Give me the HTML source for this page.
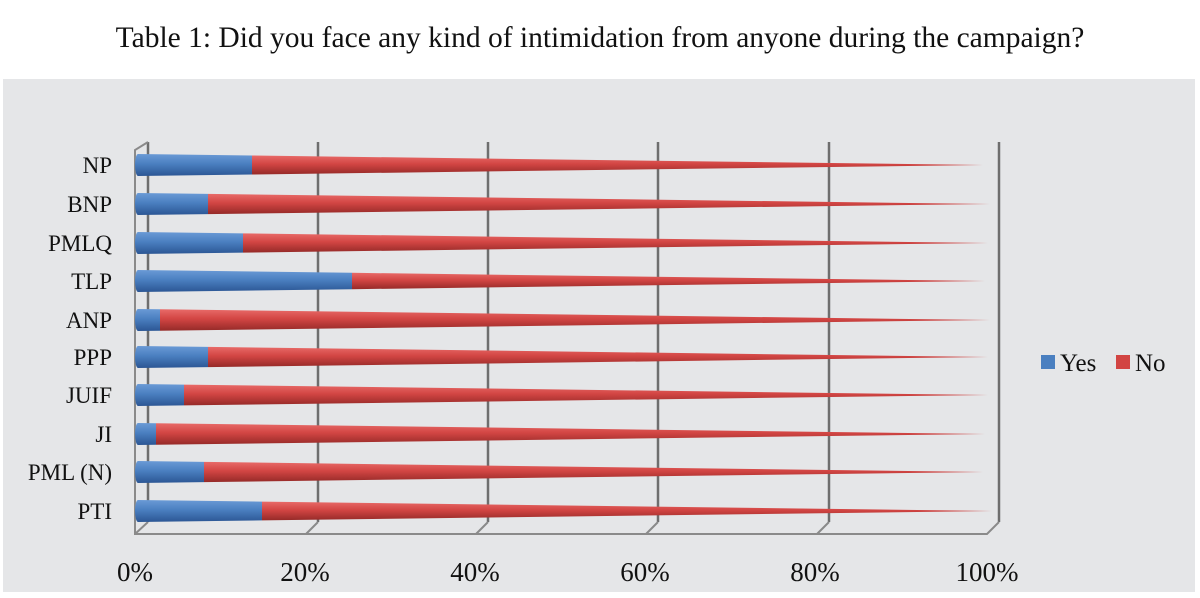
<!DOCTYPE html>
<html><head><style>
body{margin:0;background:#fff;}
svg{display:block;}
text{font-family:"Liberation Serif",serif;fill:#111;}
</style></head><body>
<svg width="1200" height="598" viewBox="0 0 1200 598">
<defs>
<linearGradient id="b" x1="0" y1="0" x2="0" y2="1">
<stop offset="0" stop-color="#6a9ad6"/><stop offset="0.45" stop-color="#4a7fc0"/><stop offset="1" stop-color="#2b5694"/>
</linearGradient>
<linearGradient id="r" x1="0" y1="0" x2="0" y2="1">
<stop offset="0" stop-color="#e86a68"/><stop offset="0.45" stop-color="#d24543"/><stop offset="1" stop-color="#952a28"/>
</linearGradient>
</defs>
<text x="600" y="47" font-size="29.5" text-anchor="middle">Table 1: Did you face any kind of intimidation from anyone during the campaign?</text>
<rect x="3" y="79" width="1192" height="513" fill="#e5e6e8"/>
<g stroke="#6e6e6e" stroke-width="2.5">
<line x1="148" y1="142" x2="148" y2="522"/>
<line x1="318" y1="142" x2="318" y2="522"/>
<line x1="488" y1="142" x2="488" y2="522"/>
<line x1="658" y1="142" x2="658" y2="522"/>
<line x1="829" y1="142" x2="829" y2="522"/>
<line x1="999" y1="142" x2="999" y2="522"/>
</g>
<g stroke="#8a8a8a" stroke-width="2" fill="none">
<polyline points="148,142 135,150 135,534 987,534 999,522"/>
<line x1="148" y1="522" x2="135" y2="534"/>
<line x1="318" y1="522" x2="306" y2="534"/>
<line x1="488" y1="522" x2="476" y2="534"/>
<line x1="658" y1="522" x2="646" y2="534"/>
<line x1="829" y1="522" x2="817" y2="534"/>
</g>
<g>
<polygon points="252,155.5 983,165 252,174.5" fill="url(#r)"/><polygon points="138,154 252,155.5 252,174.5 138,176" fill="url(#b)"/><ellipse cx="138" cy="165" rx="3" ry="11" fill="url(#b)"/>
<polygon points="208,193.9 990,204 208,214.1" fill="url(#r)"/><polygon points="138,193 208,193.9 208,214.1 138,215" fill="url(#b)"/><ellipse cx="138" cy="204" rx="3" ry="11" fill="url(#b)"/>
<polygon points="243,233.4 988,243 243,252.6" fill="url(#r)"/><polygon points="138,232 243,233.4 243,252.6 138,254" fill="url(#b)"/><ellipse cx="138" cy="243" rx="3" ry="11" fill="url(#b)"/>
<polygon points="352,272.8 985,281 352,289.2" fill="url(#r)"/><polygon points="138,270 352,272.8 352,289.2 138,292" fill="url(#b)"/><ellipse cx="138" cy="281" rx="3" ry="11" fill="url(#b)"/>
<polygon points="160,309.3 990,320 160,330.7" fill="url(#r)"/><polygon points="138,309 160,309.3 160,330.7 138,331" fill="url(#b)"/><ellipse cx="138" cy="320" rx="3" ry="11" fill="url(#b)"/>
<polygon points="208,346.9 988,357 208,367.1" fill="url(#r)"/><polygon points="138,346 208,346.9 208,367.1 138,368" fill="url(#b)"/><ellipse cx="138" cy="357" rx="3" ry="11" fill="url(#b)"/>
<polygon points="184,384.6 988,395 184,405.4" fill="url(#r)"/><polygon points="138,384 184,384.6 184,405.4 138,406" fill="url(#b)"/><ellipse cx="138" cy="395" rx="3" ry="11" fill="url(#b)"/>
<polygon points="156,423.2 985,434 156,444.8" fill="url(#r)"/><polygon points="138,423 156,423.2 156,444.8 138,445" fill="url(#b)"/><ellipse cx="138" cy="434" rx="3" ry="11" fill="url(#b)"/>
<polygon points="204,461.9 983,472 204,482.1" fill="url(#r)"/><polygon points="138,461 204,461.9 204,482.1 138,483" fill="url(#b)"/><ellipse cx="138" cy="472" rx="3" ry="11" fill="url(#b)"/>
<polygon points="262,501.6 992,511 262,520.4" fill="url(#r)"/><polygon points="138,500 262,501.6 262,520.4 138,522" fill="url(#b)"/><ellipse cx="138" cy="511" rx="3" ry="11" fill="url(#b)"/>
</g>
<g font-size="23" text-anchor="end">
<text x="112" y="173">NP</text>
<text x="112" y="212">BNP</text>
<text x="112" y="251">PMLQ</text>
<text x="112" y="289">TLP</text>
<text x="112" y="328">ANP</text>
<text x="112" y="365">PPP</text>
<text x="112" y="403">JUIF</text>
<text x="112" y="442">JI</text>
<text x="112" y="480">PML (N)</text>
<text x="112" y="519">PTI</text>
</g>
<g font-size="27" text-anchor="middle">
<text x="135" y="581">0%</text>
<text x="305" y="581">20%</text>
<text x="475" y="581">40%</text>
<text x="645" y="581">60%</text>
<text x="815" y="581">80%</text>
<text x="987" y="581">100%</text>
</g>
<rect x="1041" y="355" width="14" height="14" fill="#4a7fc0"/>
<text x="1060" y="371" font-size="25">Yes</text>
<rect x="1116" y="355" width="14" height="14" fill="#d24543"/>
<text x="1135" y="371" font-size="25">No</text>
</svg>
</body></html>
